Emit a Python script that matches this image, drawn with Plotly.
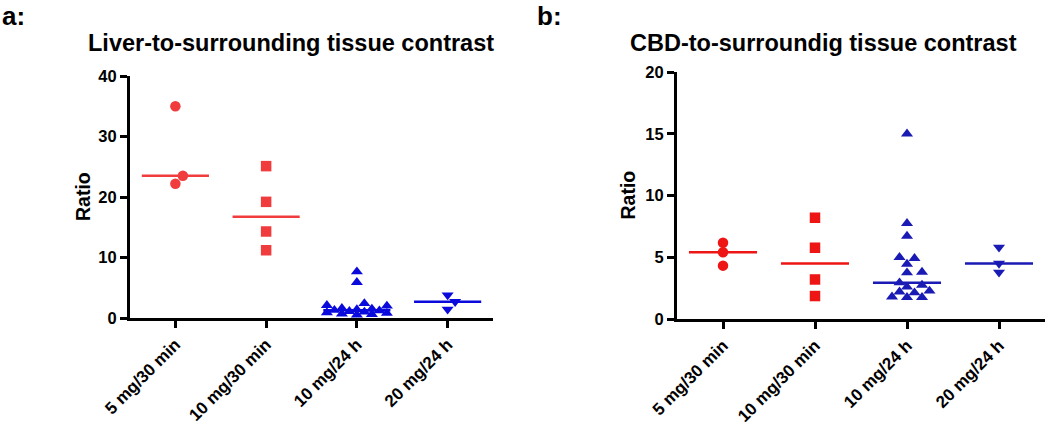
import math
import plotly.graph_objects as go

# ---------------- data ----------------
groups = ["5 mg/30 min", "10 mg/30 min", "10 mg/24 h", "20 mg/24 h"]

liver_5mg_30min = [35.0, 22.2, 23.5]
liver_10mg_30min = [25.1, 19.2, 14.3, 11.2]
liver_10mg_24h = [7.65, 5.9, 2.4, 2.1, 2.0, 1.6, 1.5, 1.4, 1.3, 1.2, 1.1, 1.0, 0.9, 0.8, 0.7, 0.6, 0.5]
liver_20mg_24h = [3.8, 2.7, 1.43]

cbd_5mg_30min = [6.18, 5.4, 4.32]
cbd_10mg_30min = [8.2, 5.77, 3.2, 1.86]
cbd_10mg_24h = [15.0, 7.75, 6.72, 4.91, 5.0, 4.45, 3.8, 3.75, 2.94, 2.75, 2.6, 2.27, 2.2, 2.13, 1.8, 1.76, 1.76]
cbd_20mg_24h = [5.8, 4.5, 3.78]

liver_ticks = [0, 10, 20, 30, 40]
cbd_ticks = [0, 5, 10, 15, 20]

# ---------------- layout geometry ----------------
W, H = 1050, 429
L_X = [130 / W, 493 / W]
L_Y = [1 - 318 / H, 1 - 76 / H]
R_X = [677 / W, 1045 / W]
R_Y = [1 - 319 / H, 1 - 72 / H]
XR = [-0.5, 3.5]
L_YR = [0, 40]
R_YR = [0, 20]

RED_L = "#F03C3C"
RED_R = "#EE1515"
BLUE_L = "#0A0ADC"
BLUE_R = "#1A1AB4"
FONT = "Liberation Sans, Arial, sans-serif"


def median(v):
    s = sorted(v)
    n = len(s)
    return s[n // 2] if n % 2 else (s[n // 2 - 1] + s[n // 2]) / 2


def swarm(values, px_per_cat, px_per_unit, dist=8.5, step=7.5, max_n=4):
    """Prism-like scatter-dot spreading: returns x offsets in category units."""
    order = sorted(range(len(values)), key=lambda k: values[k])
    placed = []
    offs = [0.0] * len(values)
    cands = [0.0]
    for n in range(1, max_n + 1):
        cands += [n * step, -n * step]
    for k in order:
        y = values[k] * px_per_unit
        best, best_d = None, -1
        for c in cands:
            d = min([math.hypot(c - px, y - py) for px, py in placed] or [1e9])
            if d >= dist:
                best = c
                break
            if d > best_d:
                best_d, best = d, c
        placed.append((best, y))
        offs[k] = best / px_per_cat
    return offs


fig = go.Figure()


def add_panel(series, symbols, colors, xa, ya, xdom, ydom, yr):
    px_cat = (xdom[1] - xdom[0]) * W / (XR[1] - XR[0])
    px_unit = (ydom[1] - ydom[0]) * H / (yr[1] - yr[0])
    for i, (vals, sym, col) in enumerate(zip(series, symbols, colors)):
        offs = swarm(vals, px_cat, px_unit)
        fig.add_trace(go.Scatter(
            x=[i + o for o in offs], y=vals, mode="markers",
            marker=dict(symbol=sym, size=10.5, color=col, line=dict(width=0)),
            xaxis=xa, yaxis=ya, showlegend=False, hoverinfo="y", cliponaxis=False))
        m = median(vals)
        fig.add_trace(go.Scatter(
            x=[i - 0.37, i + 0.37], y=[m, m], mode="lines",
            line=dict(color=col, width=2.5),
            xaxis=xa, yaxis=ya, showlegend=False, hoverinfo="skip"))


syms = ["circle", "square", "triangle-up", "triangle-down"]
add_panel([liver_5mg_30min, liver_10mg_30min, liver_10mg_24h, liver_20mg_24h],
          syms, [RED_L, RED_L, BLUE_L, BLUE_L], "x", "y", L_X, L_Y, L_YR)
add_panel([cbd_5mg_30min, cbd_10mg_30min, cbd_10mg_24h, cbd_20mg_24h],
          syms, [RED_R, RED_R, BLUE_R, BLUE_R], "x2", "y2", R_X, R_Y, R_YR)

axis_common = dict(showline=True, linewidth=3, linecolor="black", ticks="outside",
                   ticklen=7, tickwidth=3, tickcolor="black", showgrid=False,
                   zeroline=False, mirror=False, fixedrange=True, automargin=False)
xfont = dict(family=FONT, size=17, color="black", weight="bold")
yfont = dict(family=FONT, size=16.5, color="black", weight="bold")

fig.update_layout(
    template="none",
    width=W, height=H, margin=dict(l=0, r=0, t=0, b=0, pad=0), autosize=False,
    paper_bgcolor="white", plot_bgcolor="white",
    font=dict(family=FONT, color="black"),
    xaxis=dict(domain=L_X, range=XR, tickvals=list(range(4)), ticktext=groups,
               tickangle=-45, tickfont=xfont, anchor="y", **axis_common),
    yaxis=dict(domain=L_Y, range=L_YR, tickvals=liver_ticks, tickfont=yfont,
               anchor="x", **axis_common),
    xaxis2=dict(domain=R_X, range=XR, tickvals=list(range(4)), ticktext=groups,
                tickangle=-45, tickfont=xfont, anchor="y2", **axis_common),
    yaxis2=dict(domain=R_Y, range=R_YR, tickvals=cbd_ticks, tickfont=yfont,
                anchor="x2", **axis_common),
)

ann = [
    dict(text="a:", x=0.0, y=1 - 16 / H, xanchor="left", yanchor="middle", size=26),
    dict(text="b:", x=535 / W, y=1 - 16 / H, xanchor="left", yanchor="middle", size=26),
    dict(text="Liver-to-surrounding tissue contrast", x=291 / W, y=1 - 43 / H,
         xanchor="center", yanchor="middle", size=23.5),
    dict(text="CBD-to-surroundig tissue contrast", x=823 / W, y=1 - 43 / H,
         xanchor="center", yanchor="middle", size=23.5),
]
for a in ann:
    fig.add_annotation(text=a["text"], x=a["x"], y=a["y"], xref="paper", yref="paper",
                       xanchor=a["xanchor"], yanchor=a["yanchor"], showarrow=False,
                       font=dict(family=FONT, size=a["size"], color="black", weight="bold"))

for xc, yc in [(83 / W, (L_Y[0] + L_Y[1]) / 2), (627 / W, (R_Y[0] + R_Y[1]) / 2)]:
    fig.add_annotation(text="Ratio", x=xc, y=yc, xref="paper", yref="paper",
                       xanchor="center", yanchor="middle", textangle=-90, showarrow=False,
                       font=dict(family=FONT, size=19.5, color="black", weight="bold"))

fig.write_html("out.html", config={"displayModeBar": False},
               post_script="document.body.style.margin='0';document.body.style.overflow='hidden';")
